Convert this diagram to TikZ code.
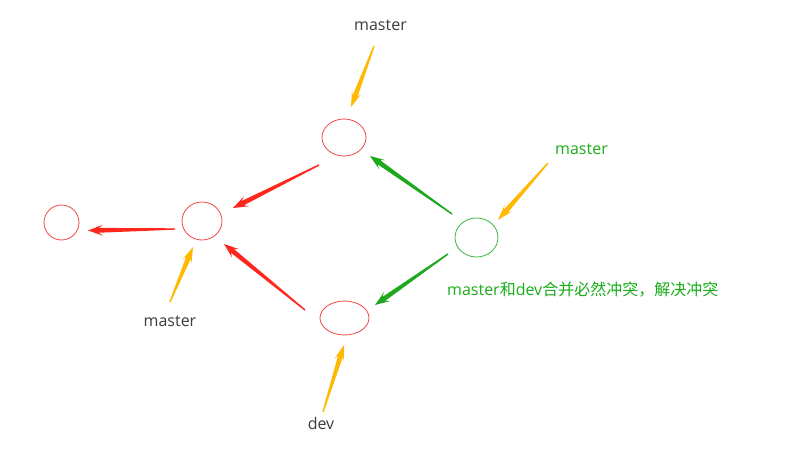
\documentclass[tikz,border=0pt]{standalone}
\usepackage{fontspec}
\setmainfont{Open Sans}
\newfontfamily\cjk{Noto Sans CJK SC}
\usetikzlibrary{calc,shapes.geometric}
\definecolor{cred}{RGB}{242,70,70}
\definecolor{ared}{RGB}{255,38,28}
\definecolor{cgreen}{RGB}{60,180,60}
\definecolor{agreen}{RGB}{30,168,30}
\definecolor{tgreen}{RGB}{26,173,25}
\definecolor{ayellow}{RGB}{255,185,0}
\definecolor{tgray}{RGB}{60,60,60}
% tapered arrow: colour, start, end, head length, head half width, shaft half width
\newcommand\brusharrow[6]{%
  \coordinate (ba-h) at ($(#3)!#4!(#2)$);
  \coordinate (ba-j) at ($(#3)!#4*0.72!(#2)$);
  \fill[#1] ($(#2)!0.7pt!90:(#3)$) -- ($(ba-j)!#6!90:(#3)$) -- ($(ba-h)!#5!90:(#3)$)
    -- (#3) -- ($(ba-h)!#5!-90:(#3)$) -- ($(ba-j)!#6!-90:(#3)$)
    -- ($(#2)!0.7pt!-90:(#3)$) -- cycle;
}
\tikzset{
  commit/.style={ellipse,draw=cred,line width=0.8pt,inner sep=0pt},
  lbl/.style={text=tgray,font=\fontsize{16}{19}\selectfont,inner sep=0pt},
  glbl/.style={text=tgreen,font=\fontsize{16}{19}\selectfont,inner sep=0pt},
}
\begin{document}
\begin{tikzpicture}[x=1pt,y=-1pt]
\useasboundingbox[fill=white] (0,0) rectangle (811,457);
% commits
\node[commit,minimum width=35pt,minimum height=35pt] (A) at (61.5,222.5) {};
\node[commit,minimum width=40pt,minimum height=38pt] (B) at (202,221) {};
\node[commit,minimum width=44pt,minimum height=37pt] (C) at (344,137.5) {};
\node[commit,minimum width=49pt,minimum height=34pt] (D) at (344.5,318) {};
\node[commit,draw=cgreen,minimum width=43pt,minimum height=39pt] (E) at (476.5,237.5) {};
% labels
\node[lbl] (mtop) at (380.5,25) {master};
\node[glbl] (mgreen) at (581.5,149.5) {master};
\node[lbl] (mlow) at (170,321) {master};
\node[lbl] (ldev) at (321,423) {dev};
\node[glbl,anchor=west] (note) at (447,290) {master{\cjk 和}dev{\cjk 合并必然冲突，解决冲突}};
% connector end points
\coordinate (ba1s) at (175,229); \coordinate (ba1e) at (88,230.5);
\coordinate (cb1s) at (319,165); \coordinate (cb1e) at (233,208);
\coordinate (db1s) at (305,310); \coordinate (db1e) at (224,244);
\coordinate (ec1s) at (452,214); \coordinate (ec1e) at (370,156);
\coordinate (ed1s) at (448,254); \coordinate (ed1e) at (375,305);
\coordinate (y1s) at (374,46); \coordinate (y1e) at (351,107);
\coordinate (y2s) at (548,163); \coordinate (y2e) at (498,220);
\coordinate (y3s) at (170,302); \coordinate (y3e) at (193,247);
\coordinate (y4s) at (323,412); \coordinate (y4e) at (344,345);
% arrows
\brusharrow{ared}{ba1s}{ba1e}{15pt}{5.5pt}{2.4pt}
\brusharrow{ared}{cb1s}{cb1e}{15pt}{5.5pt}{2.4pt}
\brusharrow{ared}{db1s}{db1e}{15pt}{5.5pt}{2.4pt}
\brusharrow{agreen}{ec1s}{ec1e}{15pt}{5.5pt}{2.4pt}
\brusharrow{agreen}{ed1s}{ed1e}{15pt}{5.5pt}{2.4pt}
\brusharrow{ayellow}{y1s}{y1e}{16pt}{5pt}{2.5pt}
\brusharrow{ayellow}{y2s}{y2e}{16pt}{5pt}{2.5pt}
\brusharrow{ayellow}{y3s}{y3e}{16pt}{5pt}{2.5pt}
\brusharrow{ayellow}{y4s}{y4e}{16pt}{5pt}{2.5pt}
\end{tikzpicture}
\end{document}
